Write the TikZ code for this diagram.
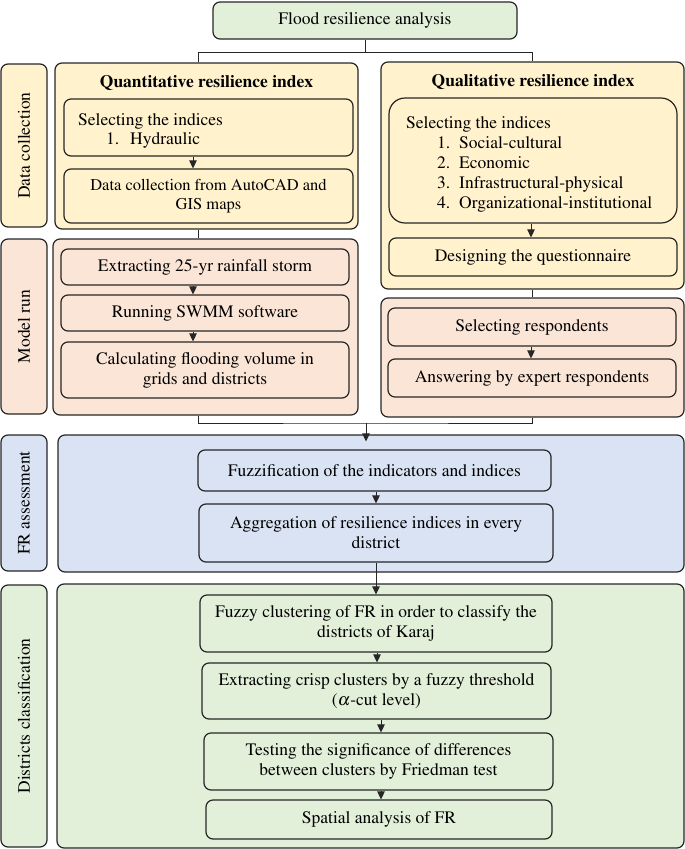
\documentclass[tikz,border=0pt]{standalone}
\usepackage[T1]{fontenc}
\usepackage{mathptmx}
\usetikzlibrary{arrows.meta,calc}
\newcommand\myfs{\fontsize{17.5}{20}\selectfont}
\newcommand\mysmfs{\fontsize{16.5}{19.5}\selectfont}
\definecolor{cgreen}{HTML}{E2EFD9}
\definecolor{cyel}{HTML}{FFF2CC}
\definecolor{cpeach}{HTML}{FBE5D6}
\definecolor{cblue}{HTML}{DAE3F3}
\tikzset{
  bx/.style={draw=black!85, line width=1.2pt, rounded corners=7pt, inner sep=2pt, align=center, font=\myfs},
  txt/.style={inner sep=0pt, font=\myfs},
  lbl/.style={rotate=90, inner sep=0pt, font=\myfs},
  ttl/.style={inner sep=0pt, font=\myfs\bfseries},
  ln/.style={draw=black!85, line width=1pt},
  arr/.style={draw=black!85, line width=1pt, -{Triangle[length=8pt,width=7.5pt]}}
}
\begin{document}
\begin{tikzpicture}[x=1pt,y=-1pt]
\useasboundingbox (0,0) rectangle (685,849);

% top
\node[bx, fill=cgreen, minimum width=304pt, minimum height=37pt] (top) at (365,20.5) {Flood resilience analysis};

% Data collection row
\node[bx, fill=cyel, minimum width=46pt, minimum height=163pt] (lab1) at (24,145.5) {};
\node[lbl] (lab1t) at (lab1.center) {Data collection};
\node[bx, fill=cyel, minimum width=303pt, minimum height=166pt] (quant) at (206.5,146) {};
\node[ttl] (quantt) at (206.5,83) {Quantitative resilience index};
\node[bx, fill=cyel, minimum width=289pt, minimum height=57pt] (sel1) at (208.5,127.5) {};
\node[txt, anchor=base west] (sel1a) at (78,125) {Selecting the indices};
\node[txt, anchor=base west] (sel1n) at (106,144) {1.};
\node[txt, anchor=base west] (sel1b) at (130,144) {Hydraulic};
\node[bx, fill=cyel, minimum width=289pt, minimum height=54pt, font=\mysmfs] (dcol) at (208.5,196) {Data collection from AutoCAD and\\GIS maps};

\node[bx, fill=cyel, minimum width=303pt, minimum height=227pt] (qual) at (532.5,175.5) {};
\node[ttl] (qualt) at (533,82) {Qualitative resilience index};
\node[bx, fill=cyel, rounded corners=16pt, minimum width=288pt, minimum height=125pt] (sel2) at (533,160.5) {};
\node[txt, anchor=base west] (sel2a) at (406,128) {Selecting the indices};
\node[txt, anchor=base west] (sel2n1) at (437,148) {1.};
\node[txt, anchor=base west] (sel2w1) at (459,148) {Social-cultural};
\node[txt, anchor=base west] (sel2n2) at (437,168) {2.};
\node[txt, anchor=base west] (sel2w2) at (459,168) {Economic};
\node[txt, anchor=base west] (sel2n3) at (437,188) {3.};
\node[txt, anchor=base west] (sel2w3) at (459,188) {Infrastructural-physical};
\node[txt, anchor=base west] (sel2n4) at (437,208) {4.};
\node[txt, anchor=base west] (sel2w4) at (459,208) {Organizational-institutional};
\node[bx, fill=cyel, minimum width=288pt, minimum height=38pt] (design) at (533,257) {Designing the questionnaire};

% Model run row
\node[bx, fill=cpeach, minimum width=46pt, minimum height=175pt] (lab2) at (24,326.5) {};
\node[lbl] (lab2t) at (lab2.center) {Model run};
\node[bx, fill=cpeach, minimum width=305pt, minimum height=176pt] (modL) at (205.5,327) {};
\node[bx, fill=cpeach, minimum width=288pt, minimum height=36pt] (ext) at (205,267) {Extracting 25-yr rainfall storm};
\node[bx, fill=cpeach, minimum width=288pt, minimum height=36pt] (run) at (205,313) {Running SWMM software};
\node[bx, fill=cpeach, minimum width=288pt, minimum height=56pt] (calc) at (205,370) {Calculating flooding volume in\\grids and districts};
\node[bx, fill=cpeach, minimum width=303pt, minimum height=119pt] (modR) at (532.5,357.5) {};
\node[bx, fill=cpeach, minimum width=288pt, minimum height=38pt] (resp) at (532,327) {Selecting respondents};
\node[bx, fill=cpeach, minimum width=288pt, minimum height=38pt] (ans) at (532,378) {Answering by expert respondents};

% FR assessment row
\node[bx, fill=cblue, minimum width=46pt, minimum height=136pt] (lab3) at (24,503) {};
\node[lbl] (lab3t) at (lab3.center) {FR assessment};
\node[bx, fill=cblue, minimum width=626pt, minimum height=137pt] (fr) at (371,503.5) {};
\node[bx, fill=cblue, minimum width=353pt, minimum height=41pt] (fuzz) at (374.5,470.5) {Fuzzification of the indicators and indices};
\node[bx, fill=cblue, minimum width=354pt, minimum height=58pt] (agg) at (376,533) {Aggregation of resilience indices in every\\district};

% Districts classification row
\node[bx, fill=cgreen, minimum width=46pt, minimum height=262pt] (lab4) at (24,716) {};
\node[lbl] (lab4t) at (lab4.center) {Districts classification};
\node[bx, fill=cgreen, minimum width=627pt, minimum height=264pt] (dist) at (370.5,716) {};
\node[bx, fill=cgreen, minimum width=352pt, minimum height=57pt] (fc) at (376,623.5) {Fuzzy clustering of FR in order to classify the\\districts of Karaj};
\node[bx, fill=cgreen, minimum width=349pt, minimum height=56pt] (ec) at (376.5,691) {Extracting crisp clusters by a fuzzy threshold\\($\alpha$-cut level)};
\node[bx, fill=cgreen, minimum width=349pt, minimum height=57pt] (test) at (378.5,761.5) {Testing the significance of differences\\between clusters by Friedman test};
\node[bx, fill=cgreen, minimum width=346pt, minimum height=39pt] (sp) at (379,819.5) {Spatial analysis of FR};

% connectors
\coordinate (j1) at (365,52);
\coordinate (jl) at (198,52);
\coordinate (jr) at (532,52);
\draw[ln] (top.south) -- (j1);
\draw[ln] (jl |- quant.north) -- (jl) -- (jr) -- (jr |- qual.north);
\draw[arr] ([xshift=-15.5pt]sel1.south) -- ([xshift=-15.5pt]dcol.north);
\draw[ln] (jl |- quant.south) -- (jl |- modL.north);
\draw[arr] ([xshift=-2pt]sel2.south) -- ([xshift=-2pt]design.north);
\draw[ln] (jr |- qual.south) -- (jr |- modR.north);
\draw[arr] ([xshift=-12pt]ext.south) -- ([xshift=-12pt]run.north);
\draw[arr] ([xshift=-12pt]run.south) -- ([xshift=-12pt]calc.north);
\draw[arr] ([xshift=-1pt]resp.south) -- ([xshift=-1pt]ans.north);
\coordinate (j2) at (366,423);
\draw[ln] (jl |- modL.south) |- (j2) -| (jr |- modR.south);
\draw[arr] (j2) -- ($(j2 |- fr.north)+(0,7)$);
\draw[arr] (agg.north |- fuzz.south) -- (agg.north);
\draw[arr] (agg.south) -- (agg.south |- fc.north);
\draw[arr] ([xshift=1pt]fc.south) -- ([xshift=1pt]fc.south |- ec.north);
\draw[arr] ([xshift=2.5pt]test.north |- ec.south) -- ([xshift=2.5pt]test.north);
\draw[arr] ([xshift=2pt]sp.north |- test.south) -- ([xshift=2pt]sp.north);
\end{tikzpicture}
\end{document}
